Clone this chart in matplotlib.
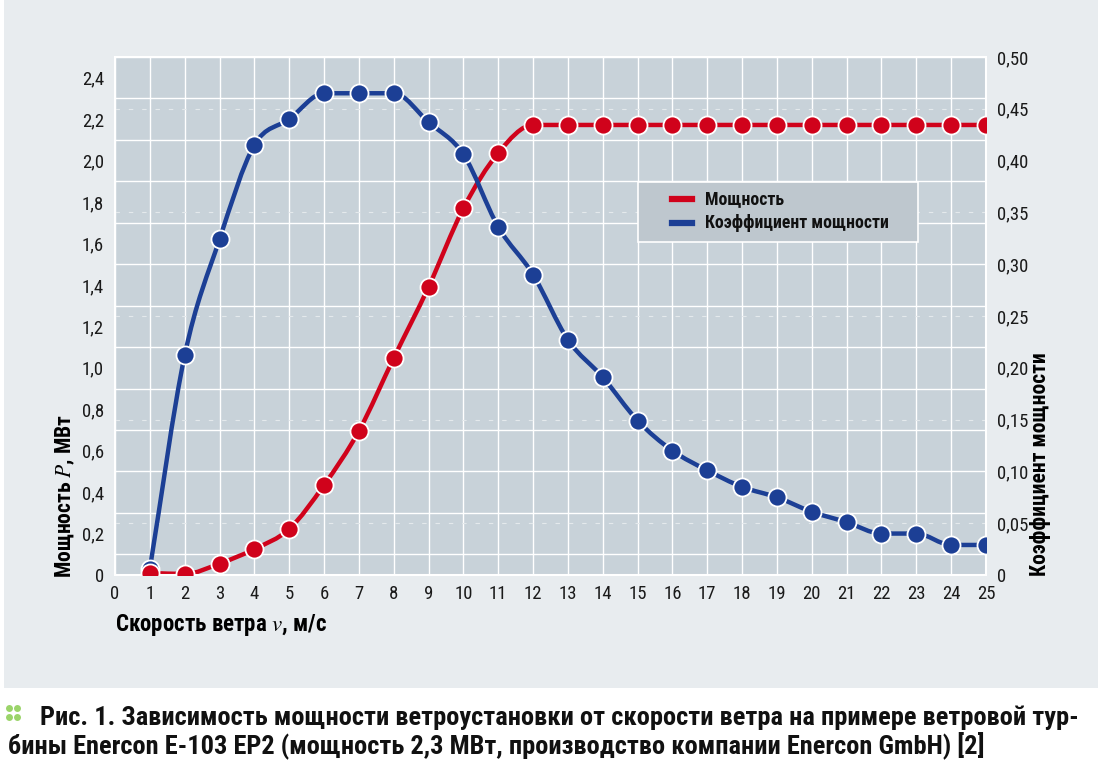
import numpy as np
import matplotlib.pyplot as plt
from matplotlib.path import Path
from matplotlib.patches import PathPatch, Rectangle
from matplotlib.lines import Line2D

plt.rcParams['font.family'] = ['Roboto Condensed', 'PT Sans Narrow', 'Fira Sans Condensed',
                               'Ubuntu Condensed', 'DejaVu Sans']
plt.rcParams['mathtext.fontset'] = 'stix'

# data
wind_speed = [1, 2, 3, 4, 5, 6, 7, 8, 9, 10, 11, 12, 13,
              14, 15, 16, 17, 18, 19, 20, 21, 22, 23, 24, 25]
power_mw = [0.01, 0.005, 0.055, 0.125, 0.222, 0.434, 0.695, 1.047, 1.39, 1.77, 2.037, 2.172, 2.172,
            2.172, 2.172, 2.172, 2.172, 2.172, 2.172, 2.172, 2.172, 2.172, 2.172, 2.172, 2.172]
power_coef = [0.006, 0.212, 0.324, 0.415, 0.44, 0.465, 0.465, 0.465, 0.437, 0.406, 0.336, 0.29, 0.227,
              0.191, 0.149, 0.12, 0.101, 0.085, 0.075, 0.061, 0.051, 0.04, 0.04, 0.029, 0.029]

left_ticks = [0, 0.2, 0.4, 0.6, 0.8, 1.0, 1.2, 1.4, 1.6, 1.8, 2.0, 2.2, 2.4]
left_labels = ['0', '0,2', '0,4', '0,6', '0,8', '1,0', '1,2', '1,4', '1,6', '1,8', '2,0', '2,2', '2,4']
right_ticks = [0, 0.05, 0.1, 0.15, 0.2, 0.25, 0.3, 0.35, 0.4, 0.45, 0.5]
right_labels = ['0', '0,05', '0,10', '0,15', '0,20', '0,25', '0,30', '0,35', '0,40', '0,45', '0,50']
legend_labels = ['Мощность', 'Коэффициент мощности']

RED = '#D0021B'
BLUE = '#1C3F95'
PLOT_BG = '#C8D2D9'
OUTER_BG = '#E8ECEF'


def smooth_path(x, y):
    # catmull-rom style bezier, tangents clamped so plateaus stay flat
    x = np.asarray(x, float)
    y = np.asarray(y, float)
    h = np.diff(x)
    d = np.diff(y) / h
    m = np.zeros_like(y)
    m[0] = d[0]
    m[-1] = d[-1]
    for i in range(1, len(y) - 1):
        if d[i - 1] * d[i] > 0:
            t = (d[i - 1] + d[i]) / 2
            lim = 3 * min(abs(d[i - 1]), abs(d[i]))
            m[i] = np.sign(t) * min(abs(t), lim)
    verts = [(x[0], y[0])]
    codes = [Path.MOVETO]
    for i in range(len(x) - 1):
        verts += [(x[i] + h[i] / 3, y[i] + m[i] * h[i] / 3),
                  (x[i + 1] - h[i] / 3, y[i + 1] - m[i + 1] * h[i] / 3),
                  (x[i + 1], y[i + 1])]
        codes += [Path.CURVE4] * 3
    return Path(verts, codes)


fig = plt.figure(figsize=(11.08, 7.65), dpi=100, facecolor='white')
fig.patches.append(Rectangle((4 / 1108, 1 - 688 / 765), 1094 / 1108, 688 / 765,
                             transform=fig.transFigure, fc=OUTER_BG, ec='none', zorder=-5))

ax = fig.add_axes([115 / 1108, 1 - 575 / 765, 871 / 1108, 518 / 765])
ax.set_facecolor(PLOT_BG)
ax.set_xlim(0, 25)
ax.set_ylim(0, 2.5)
ax.set_xticks(range(0, 26))
ax.set_yticks(left_ticks)
ax.set_yticklabels(left_labels)
ax.set_yticks(np.arange(0, 2.51, 0.1), minor=True)
ax.tick_params(which='both', length=0, labelsize=13.5, colors='#1a1a1a')
ax.tick_params(axis='x', pad=7)
ax.tick_params(axis='y', pad=8)
ax.grid(axis='x', color='white', lw=1.0)
ax.grid(axis='y', which='minor', color='white', lw=1.0)
for v in [0.25, 0.75, 1.25, 1.75, 2.25]:
    ax.axhline(v, color='#E4E9EC', lw=0.8, ls=(0, (4, 8)), zorder=0.6)
ax.set_axisbelow(True)
for s in ax.spines.values():
    s.set_color('white')
    s.set_linewidth(1.5)

# red power line at the bottom layer
ax.add_patch(PathPatch(smooth_path(wind_speed, power_mw), fill=False, ec=RED, lw=3.2,
                       capstyle='round', joinstyle='round', zorder=2))

# power coefficient on the right axis
ax2 = ax.twinx()
ax2.set_ylim(0, 0.5)
ax2.set_yticks(right_ticks)
ax2.set_yticklabels(right_labels)
ax2.tick_params(length=0, labelsize=13.5, colors='#1a1a1a', pad=8)
for s in ax2.spines.values():
    s.set_visible(False)
ax2.add_patch(PathPatch(smooth_path(wind_speed, power_coef), fill=False, ec=BLUE, lw=3.2,
                        capstyle='round', joinstyle='round'))
ax2.plot(wind_speed, power_coef, 'o', ms=13, mfc=BLUE, mec='white', mew=1.3)

# red markers and legend on top
ax3 = ax.twinx()
ax3.set_ylim(0, 2.5)
ax3.set_yticks([])
for s in ax3.spines.values():
    s.set_visible(False)
ax3.plot(wind_speed, power_mw, 'o', ms=13, mfc=RED, mec='white', mew=1.3)

# legend box drawn by hand (axes fraction)
ax3.add_patch(Rectangle((0.6005, 0.6429), 0.3214, 0.1158, transform=ax3.transAxes,
                        fc='#BEC7CE', ec='white', lw=1.2, zorder=10))
for row, (col, lab) in enumerate(zip([RED, BLUE], legend_labels)):
    yy = 0.7259 - row * 0.0464
    ax3.add_line(Line2D([0.6395, 0.6625], [yy, yy], color=col, lw=4.5,
                        transform=ax3.transAxes, zorder=11))
    ax3.text(0.6774, yy, lab, transform=ax3.transAxes, fontsize=12.8, fontweight='bold',
             ha='left', va='center', color='#111111', zorder=11)

fig.text(115 / 1108, 1 - 625 / 765, 'Скорость ветра $v$, м/с', fontsize=16.5,
         fontweight='bold', ha='left', va='center')
fig.text(65 / 1108, 1 - 578 / 765, 'Мощность $P$, МВт', fontsize=15.5,
         fontweight='bold', ha='center', va='bottom', rotation=90)
fig.text(1040 / 1108, 1 - 576 / 765, 'Коэффициент мощности', fontsize=15.5,
         fontweight='bold', ha='center', va='bottom', rotation=90)

# caption with green dots
for dx, dy in [(9, 708), (17, 708), (9, 717), (17, 717)]:
    fig.add_artist(Line2D([dx / 1108], [1 - dy / 765], marker='o', ms=5, color='#9BD46A',
                          mec='none', transform=fig.transFigure))
fig.text(40 / 1108, 1 - 718 / 765,
         'Рис. 1. Зависимость мощности ветроустановки от скорости ветра на примере ветровой тур-',
         fontsize=19, fontweight='bold', ha='left', va='center', color='#111111')
fig.text(8 / 1108, 1 - 746 / 765,
         'бины Enercon E-103 EP2 (мощность 2,3 МВт, производство компании Enercon GmbH) [2]',
         fontsize=19, fontweight='bold', ha='left', va='center', color='#111111')

fig.savefig('out.png', dpi=100, facecolor='white')
